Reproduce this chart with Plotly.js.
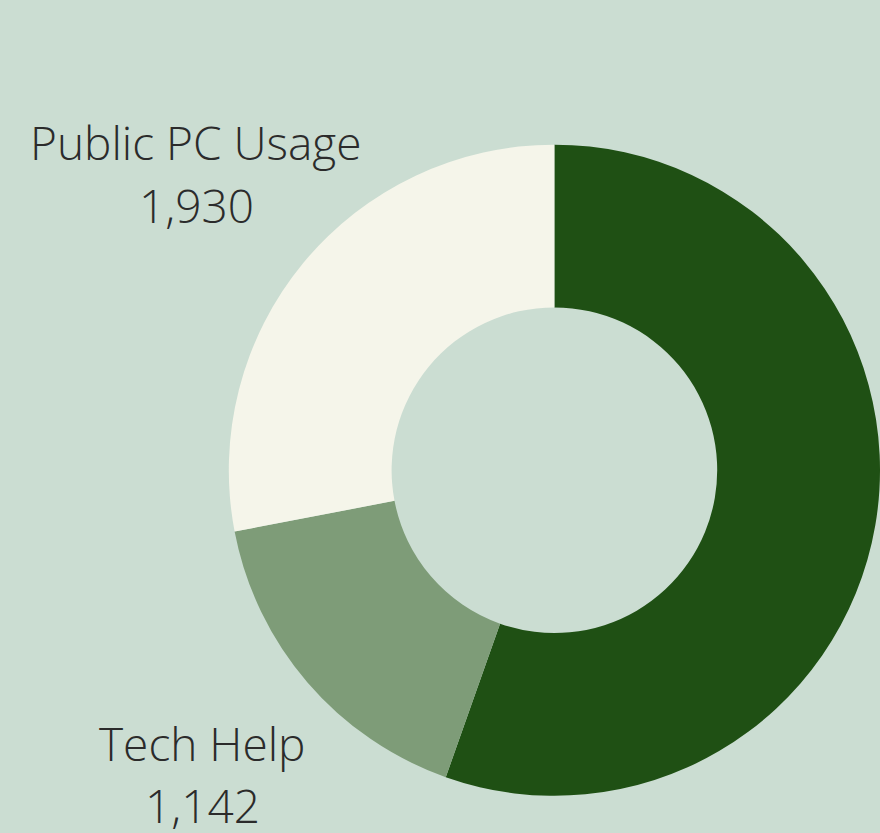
<!DOCTYPE html>
<html>
<head>
<meta charset="utf-8">
<script src="https://cdn.plot.ly/plotly-3.0.1.min.js"></script>
<style>
  html, body { margin: 0; padding: 0; background: #cbddd2; }
  #chart { width: 880px; height: 833px; }
</style>
</head>
<body>
<div id="chart"></div>
<script>
// data
const services = ["Other Services", "Tech Help", "Public PC Usage"];
const counts = [3818, 1142, 1930];
const sliceColors = ["#1f5014", "#7e9c78", "#f5f5ea"];

const W = 880, H = 833;
const labelFont = { family: "'Open Sans', Lato, sans-serif", size: 46, weight: 300, color: "#2b2b2b" };

// where the outside labels sit (pixels from top-left); the big slice's label is off the page
const labelSpots = [null, { x: 202, y: 743, gap: 62 }, { x: 196, y: 142, gap: 63 }];

const annotations = [];
services.forEach((name, i) => {
  const spot = labelSpots[i];
  if (!spot) return;
  annotations.push({
    text: name, x: spot.x / W, y: 1 - spot.y / H,
    xref: "paper", yref: "paper", xanchor: "center", yanchor: "middle",
    showarrow: false, font: labelFont
  });
  annotations.push({
    text: counts[i].toLocaleString("en-US"), x: spot.x / W, y: 1 - (spot.y + spot.gap) / H,
    xref: "paper", yref: "paper", xanchor: "center", yanchor: "middle",
    showarrow: false, font: labelFont
  });
});

const trace = {
  type: "pie",
  labels: services,
  values: counts,
  textinfo: "none",
  hole: 0.5,
  sort: false,
  direction: "clockwise",
  rotation: 0,
  marker: { colors: sliceColors, line: { width: 0 } },
  domain: { x: [0.26, 1], y: [0.043, 0.828] },
  showlegend: false,
  hoverinfo: "label+value"
};

const layout = {
  width: W,
  height: H,
  margin: { l: 0, r: 0, t: 0, b: 0 },
  paper_bgcolor: "#cbddd2",
  plot_bgcolor: "#cbddd2",
  showlegend: false,
  annotations: annotations
};

Plotly.newPlot("chart", [trace], layout, { displayModeBar: false });
</script>
</body>
</html>
